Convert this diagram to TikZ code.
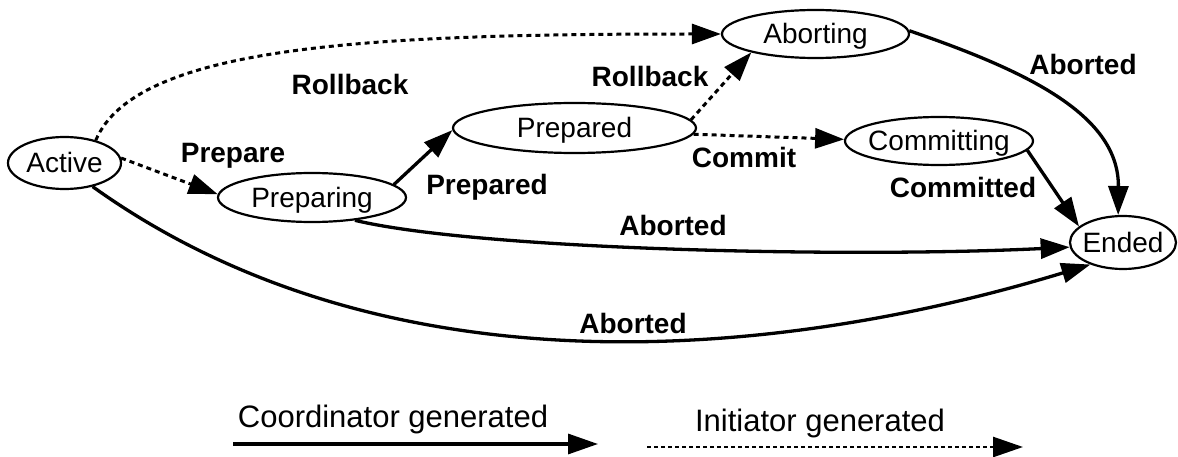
\documentclass[tikz,border=0pt]{standalone}
\usepackage{fontspec}
\setmainfont{Liberation Sans}
\usetikzlibrary{arrows.meta,shapes.geometric}
\begin{document}
\begin{tikzpicture}[x=1pt,y=-1pt,
  state/.style={ellipse,draw,line width=2.2pt,inner sep=0pt,
    text height=20pt,text depth=0pt,font=\fontsize{28}{32}\selectfont},
  evt/.style={anchor=base,inner sep=0pt,font=\fontsize{28}{32}\selectfont\bfseries},
  legendtext/.style={anchor=base,inner sep=0pt,font=\fontsize{31}{36}\selectfont},
  tipshape/.style={-{Triangle[length=29pt,width=20pt]}},
  coord/.style={tipshape,line width=3.3pt},
  init/.style={tipshape,line width=3pt,dash pattern=on 5pt off 4pt},
]
\useasboundingbox (0,0) rectangle (1178,457);

% states
\node[state,minimum width=113pt,minimum height=52pt] (act) at (64.5,163) {\makebox[0pt]{Active}};
\node[state,minimum width=188pt,minimum height=49pt] (pre) at (312,197.5) {\makebox[0pt]{Preparing}};
\node[state,minimum width=243pt,minimum height=50pt] (prd) at (574.5,128) {\makebox[0pt]{Prepared}};
\node[state,minimum width=187pt,minimum height=48pt] (abg) at (815.5,34) {\makebox[0pt]{Aborting}};
\node[state,minimum width=188pt,minimum height=48pt] (cmt) at (939,141) {\makebox[0pt]{Committing}};
\node[state,minimum width=106pt,minimum height=53pt] (ended) at (1123,242.5) {\makebox[0pt]{Ended}};

% transitions
\draw[init] (act.36) .. controls (136,45) and (372,34) .. (abg.west);
\draw[init] (act.5) -- (pre.178);
\draw[coord] (pre.9) -- (prd.181);
\draw[init] (prd.4.5) -- (abg.196);
\draw[init] (prd.-3) -- (cmt.179);
\draw[coord] (abg.2) .. controls (1030,72) and (1119,116) .. (ended.100);
\draw[coord] (cmt.-6) -- (ended.160);
\draw[coord] (pre.-28) .. controls (480,250) and (850,258) .. (ended.185);
\draw[coord] (act.-40) .. controls (392,401) and (790,356) .. (ended.214);

% transition labels
\node[evt] (lrb1) at (350,95) {Rollback};
\node[evt] (lprep) at (233,163) {Prepare};
\node[evt] (lprd) at (487,195) {Prepared};
\node[evt] (lrb2) at (650,87) {Rollback};
\node[evt] (lcom) at (744,168) {Commit};
\node[evt] (lab1) at (1083,75) {Aborted};
\node[evt] (lcmd) at (963,198) {Committed};
\node[evt] (lab2) at (673,236) {Aborted};
\node[evt] (lab3) at (633,333) {Aborted};

% legend
\coordinate (c0) at (233,444);
\coordinate (c1) at (598,444);
\draw[coord,-{Triangle[length=30pt,width=20pt]}] (c0) -- (c1);
\node[legendtext] (lc) at (393,427) {Coordinator generated};
\coordinate (i0) at (647,447);
\coordinate (i1) at (1023,447);
\draw[init,line width=2.6pt,dash pattern=on 4pt off 3pt,-{Triangle[length=30pt,width=20pt]}] (i0) -- (i1);
\node[legendtext] (li) at (820,431) {Initiator generated};
\end{tikzpicture}
\end{document}
